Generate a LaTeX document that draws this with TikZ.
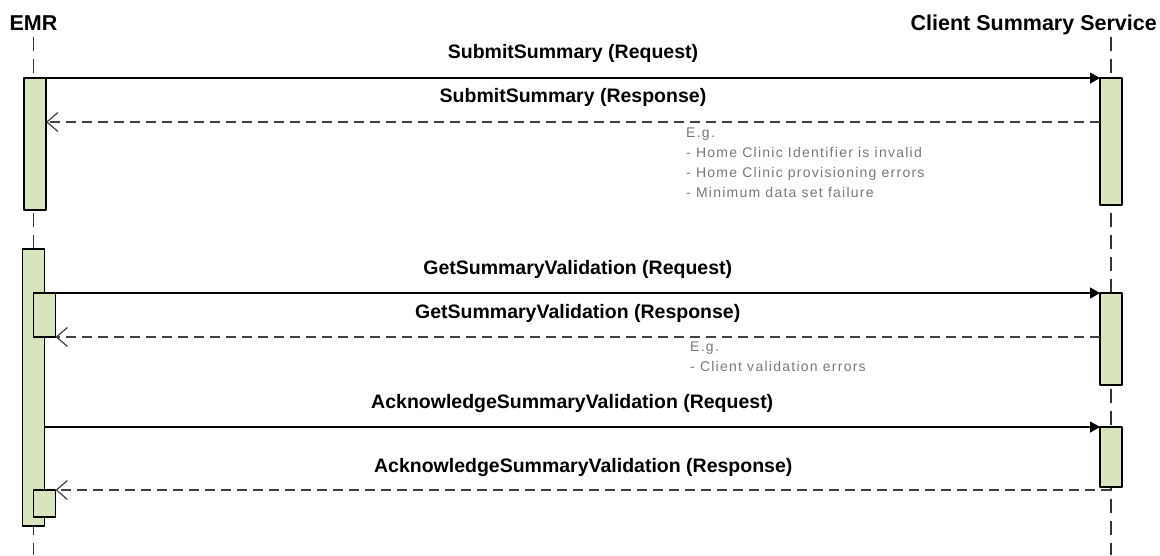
\documentclass[tikz,border=0pt]{standalone}
\usepackage{fontspec}
\setmainfont{Liberation Sans}
\newfontfamily\notefont{Liberation Sans}[LetterSpace=9]
\usetikzlibrary{arrows.meta,calc}
\definecolor{actfill}{RGB}{215,228,189}
\definecolor{notegray}{RGB}{120,120,120}

\begin{document}
\begin{tikzpicture}[x=1pt, y=-1pt, >={Triangle[length=10pt,width=11pt]}, line join=round,
    head/.style={font=\bfseries\fontsize{21.5}{25}\selectfont, inner sep=0pt, anchor=base},
    life/.style={line width=1.3pt, black!80, dash pattern=on 14pt off 8pt},
    act/.style={draw=black, line width=1.2pt, fill=actfill, anchor=north, inner sep=0pt, outer sep=0pt, minimum width=22pt},
    req/.style={->, line width=1.3pt, black},
    resp/.style={-{Straight Barb[length=11pt,width=19pt]}, line width=1.2pt, black!75, dash pattern=on 10pt off 6pt},
    lbl/.style={font=\bfseries\fontsize{19.5}{23}\selectfont, text=black, anchor=base, yshift=20pt, inner sep=0pt},
    note/.style={font=\notefont\fontsize{14}{20}\selectfont, text=notegray, align=left, anchor=north west, inner sep=0pt}]
    \useasboundingbox (0,0) rectangle (1160,555);

    % participants
    \node[head] (emr) at (33.5,30) {EMR};
    \node[head, anchor=base east] (css) at (1157,30) {Client Summary Service};

    % lifelines (dashed, behind the activation bars)
    \coordinate (emrTop) at (33.5,37);
    \coordinate (emrEnd) at (33.5,555);
    \coordinate (cssTop) at (1111,37);
    \coordinate (cssEnd) at (1111,555);
    \draw[life] (emrTop) -- (emrEnd);
    \draw[life] (cssTop) -- (cssEnd);

    % activation bars, first call
    \node[act, minimum height=132pt] (emr1) at (35,78) {};
    \node[act, minimum height=127pt] (css1) at (1111,78) {};

    % activation bars, second block (nested ones on top)
    \node[act, minimum height=277pt] (emr2) at (33.5,249) {};
    \node[act, minimum height=44pt] (emr3) at (44.5,293) {};
    \node[act, minimum height=27pt] (emr4) at (44.5,490) {};
    \node[act, minimum height=92pt] (css2) at (1111,293) {};
    \node[act, minimum height=60pt] (css3) at (1111,427) {};

    % SubmitSummary
    \draw[req] (emr1.north east) -- (css1.north west)
        node[lbl, midway] {SubmitSummary (Request)};
    \draw[resp] ($(css1.north west)+(0,44)$) -- ($(emr1.north east)+(0,44)$)
        node[lbl, midway] {SubmitSummary (Response)};
    \node[note] (note1) at (686,128) {E.g.\\- Home Clinic Identifier is invalid\\- Home Clinic provisioning errors\\- Minimum data set failure};

    % GetSummaryValidation
    \draw[req] (emr3.north east) -- (css2.north west)
        node[lbl, midway, yshift=-1pt] {GetSummaryValidation (Request)};
    \draw[resp] ($(css2.north west)+(0,44)$) -- (emr3.south east)
        node[lbl, midway, yshift=-1pt] {GetSummaryValidation (Response)};
    \node[note] (note2) at (690,342) {E.g.\\- Client validation errors};

    % AcknowledgeSummaryValidation
    \draw[req] (emr2.east |- css3.north west) -- (css3.north west)
        node[lbl, midway, yshift=-1pt] {AcknowledgeSummaryValidation (Request)};
    \draw[resp] (css3.south |- emr4.north) -- (emr4.north east)
        node[lbl, midway, yshift=-2pt] {AcknowledgeSummaryValidation (Response)};
\end{tikzpicture}
\end{document}
